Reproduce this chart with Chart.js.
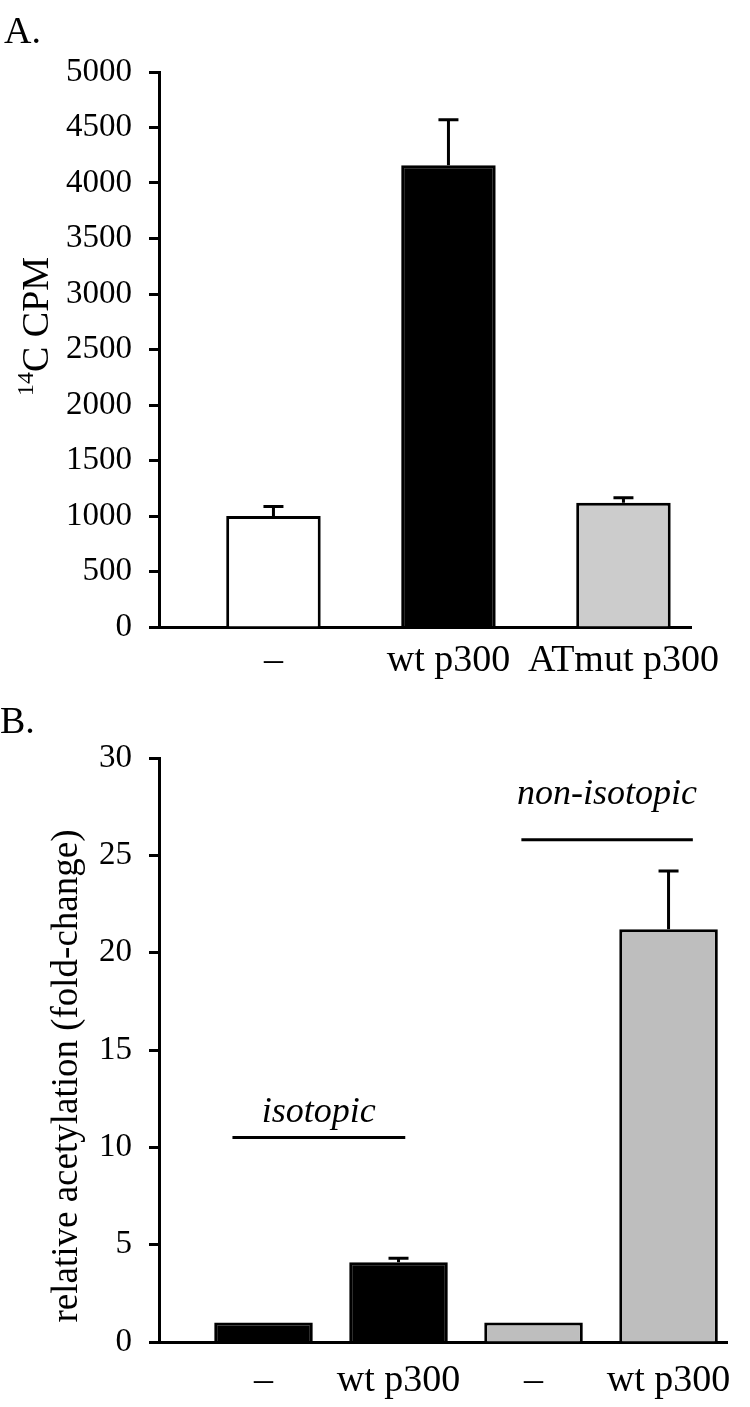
<!DOCTYPE html>
<html>
<head>
<meta charset="utf-8">
<script src="https://cdn.jsdelivr.net/npm/chart.js@4.4.0/dist/chart.umd.min.js"></script>
<style>
body { margin: 0; background: #fff; }
#wrap { position: relative; width: 750px; height: 1407px; }
canvas { position: absolute; left: 0; }
</style>
</head>
<body>
<div id="wrap">
	<canvas id="chartA" width="750" height="680" style="top:0px"></canvas>
	<canvas id="chartB" width="750" height="727" style="top:680px"></canvas>
</div>
<script>
// panel A
var labelsA = ["\u2013", "wt p300", "ATmut p300"];
var cpm = [1000, 4160, 1120];
var cpmErr = [85, 410, 45];
var ticksA = { min: 0, max: 5000, step: 500 };

// panel B
var labelsB = ["\u2013", "wt p300", "\u2013", "wt p300"];
var fold = [1.0, 4.1, 1.0, 21.2];
var foldErr = [0, 0.2, 0, 3.0];
var ticksB = { min: 0, max: 30, step: 5 };
var groupsB = ["isotopic", "non-isotopic"];

var serif = "'Liberation Serif', 'Times New Roman', serif";
Chart.defaults.font.family = serif;
Chart.defaults.color = '#000';

// error bars, only the upper half like in the paper
var errorBars = {
	id: 'errorBars',
	afterDatasetsDraw: function (chart, args, opts) {
		var ctx = chart.ctx;
		var meta = chart.getDatasetMeta(0);
		var ys = chart.scales.y;
		ctx.save();
		ctx.strokeStyle = '#000';
		ctx.lineWidth = 3;
		opts.err.forEach(function (e, i) {
			if (!e) return;
			var bar = meta.data[i];
			var top = ys.getPixelForValue(opts.values[i] + e);
			ctx.beginPath();
			ctx.moveTo(bar.x, bar.y);
			ctx.lineTo(bar.x, top);
			ctx.moveTo(bar.x - 10, top);
			ctx.lineTo(bar.x + 10, top);
			ctx.stroke();
		});
		ctx.restore();
	}
};

// panel letter + rotated y title (with superscript pieces)
var textBits = {
	id: 'textBits',
	afterDraw: function (chart, args, opts) {
		var ctx = chart.ctx;
		ctx.save();
		ctx.fillStyle = '#000';
		ctx.font = '38px ' + serif;
		ctx.textBaseline = 'alphabetic';
		ctx.fillText(opts.panel, opts.panelX, opts.panelY);

		var area = chart.chartArea;
		ctx.translate(opts.titleX, (area.top + area.bottom) / 2 + opts.titleShift);
		ctx.rotate(-Math.PI / 2);
		ctx.textBaseline = 'middle';
		var total = 0;
		opts.title.forEach(function (p) {
			ctx.font = p.size + 'px ' + serif;
			p.w = ctx.measureText(p.text).width;
			total += p.w;
		});
		var x = -total / 2;
		opts.title.forEach(function (p) {
			ctx.font = p.size + 'px ' + serif;
			ctx.fillText(p.text, x, -(p.rise || 0));
			x += p.w;
		});
		ctx.restore();
	}
};

// group labels over the bars in B
var groupLines = {
	id: 'groupLines',
	afterDraw: function (chart, args, opts) {
		var ctx = chart.ctx;
		var xs = chart.scales.x, ys = chart.scales.y;
		ctx.save();
		ctx.fillStyle = '#000';
		ctx.strokeStyle = '#000';
		ctx.lineWidth = 3;
		ctx.font = 'italic 36px ' + serif;
		ctx.textAlign = 'center';
		ctx.textBaseline = 'middle';
		opts.groups.forEach(function (g, i) {
			var x1 = xs.getPixelForValue(g.from);
			var x2 = xs.getPixelForValue(g.to);
			var ly = ys.getPixelForValue(g.lineAt);
			ctx.beginPath();
			ctx.moveTo(x1, ly);
			ctx.lineTo(x2, ly);
			ctx.stroke();
			ctx.fillText(groupsB[i], (x1 + x2) / 2, ys.getPixelForValue(g.textAt));
		});
		ctx.restore();
	}
};

function yAxis(t, width) {
	return {
		min: t.min,
		max: t.max,
		ticks: { stepSize: t.step, font: { size: 33 }, padding: 17, callback: function (v) { return v; } },
		grid: { drawOnChartArea: false, tickLength: 10, tickWidth: 3, tickColor: '#000' },
		border: { color: '#000', width: 3 },
		afterFit: function (s) { s.width = width; }
	};
}

function xAxis(labels, min, max, height, pad) {
	return {
		type: 'linear',
		min: min,
		max: max,
		offset: false,
		grid: { display: false },
		border: { color: '#000', width: 3 },
		afterBuildTicks: function (s) {
			s.ticks = labels.map(function (l, i) { return { value: i }; });
		},
		afterFit: function (s) { s.height = height; },
		ticks: {
			autoSkip: false,
			maxRotation: 0,
			padding: pad,
			font: { size: 38 },
			callback: function (v) { return labels[v]; }
		}
	};
}

// grafico A
var ctxA = document.getElementById('chartA').getContext('2d');
var chartA = new Chart(ctxA, {
	type: 'bar',
	data: {
		datasets: [{
			data: cpm.map(function (v, i) { return { x: i, y: v }; }),
			backgroundColor: ['#ffffff', '#000000', '#cccccc'],
			borderColor: '#000',
			borderWidth: 3,
			barPercentage: 0.54,
			categoryPercentage: 1
		}]
	},
	options: {
		responsive: false,
		animation: false,
		layout: { padding: { top: 72, right: 59, left: 0, bottom: 0 } },
		plugins: {
			legend: { display: false },
			tooltip: { enabled: false },
			errorBars: { values: cpm, err: cpmErr },
			textBits: {
				panel: 'A.', panelX: 4, panelY: 43,
				titleX: 38, titleShift: -23,
				title: [{ text: '14', size: 24, rise: 11 }, { text: 'C CPM', size: 38 }]
			}
		},
		scales: {
			x: xAxis(labelsA, -0.654, 2.386, 53, 3),
			y: yAxis(ticksA, 159)
		}
	},
	plugins: [errorBars, textBits]
});

// grafico B
var ctxB = document.getElementById('chartB').getContext('2d');
var chartB = new Chart(ctxB, {
	type: 'bar',
	data: {
		datasets: [{
			data: fold.map(function (v, i) { return { x: i, y: v }; }),
			backgroundColor: ['#000000', '#000000', '#bebebe', '#bebebe'],
			borderColor: '#000',
			borderWidth: 3,
			barPercentage: 0.73,
			categoryPercentage: 1
		}]
	},
	options: {
		responsive: false,
		animation: false,
		layout: { padding: { top: 78, right: 23, left: 0, bottom: 0 } },
		plugins: {
			legend: { display: false },
			tooltip: { enabled: false },
			errorBars: { values: fold, err: foldErr },
			textBits: {
				panel: 'B.', panelX: 0, panelY: 53,
				titleX: 67, titleShift: 26,
				title: [{ text: 'relative acetylation (fold-change)', size: 37 }]
			},
			groupLines: {
				groups: [
					{ from: -0.23, to: 1.05, lineAt: 10.5, textAt: 11.8 },
					{ from: 1.91, to: 3.18, lineAt: 25.8, textAt: 28.1 }
				]
			}
		},
		scales: {
			x: xAxis(labelsB, -0.774, 3.433, 65, 8),
			y: yAxis(ticksB, 159)
		}
	},
	plugins: [errorBars, textBits, groupLines]
});
</script>
</body>
</html>
